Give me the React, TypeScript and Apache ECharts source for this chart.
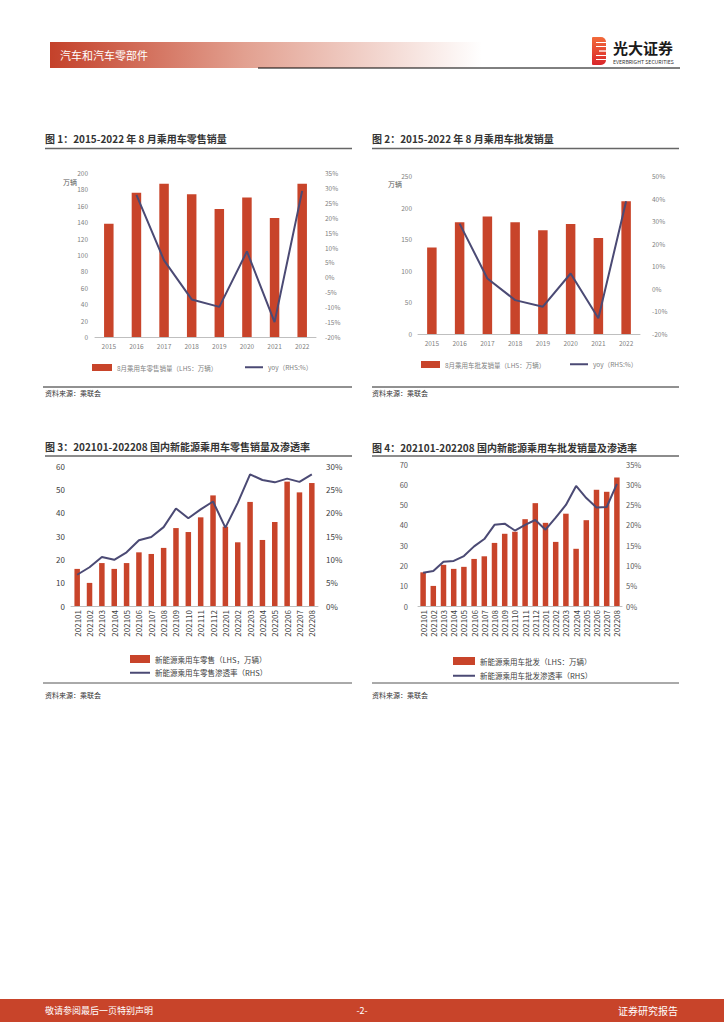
import React, { useEffect, useRef } from "react";
import * as echarts from "echarts";

const years = ["2015", "2016", "2017", "2018", "2019", "2020", "2021", "2022"];
const retailAug = [138, 176, 187, 174, 156, 170, 145, 187];
const retailYoy = [null, 27.7, 5.7, -7.4, -9.9, 8.7, -15.0, 29.0];
const wholesaleAug = [137, 177, 186, 177, 164, 174, 152, 210];
const wholesaleYoy = [null, 28.9, 4.6, -5.0, -7.9, 6.8, -13.0, 38.8];

const months = [
  "202101", "202102", "202103", "202104", "202105", "202106", "202107", "202108", "202109", "202110",
  "202111", "202112", "202201", "202202", "202203", "202204", "202205", "202206", "202207", "202208",
];
const nevRetail = [15.9, 9.9, 18.4, 15.9, 18.4, 23.0, 22.3, 24.9, 33.4, 31.7, 38.0, 47.4, 34.0, 27.3, 44.6, 28.3, 36.0, 53.3, 48.7, 52.7];
const nevRetailRate = [6.7, 8.3, 10.5, 9.9, 11.5, 14.1, 14.8, 16.9, 20.9, 18.8, 20.7, 22.4, 16.8, 22.1, 28.2, 27.0, 26.5, 27.3, 26.6, 28.2];
const nevWholesale = [16.6, 9.9, 20.3, 18.3, 19.3, 23.2, 24.5, 31.1, 35.6, 36.6, 42.8, 50.7, 41.0, 31.6, 45.5, 28.2, 42.3, 57.3, 56.3, 63.3];
const nevWholesaleRate = [8.2, 8.6, 10.9, 11.1, 12.3, 14.7, 16.5, 20.0, 20.3, 18.6, 20.0, 21.2, 18.8, 21.8, 24.9, 29.6, 26.6, 24.3, 24.4, 30.1];

const titles = [
  "图 1：2015-2022 年 8 月乘用车零售销量",
  "图 2：2015-2022 年 8 月乘用车批发销量",
  "图 3：202101-202208 国内新能源乘用车零售销量及渗透率",
  "图 4：202101-202208 国内新能源乘用车批发销量及渗透率",
];
const names = {
  b1: "8月乘用车零售销量（LHS：万辆）",
  l1: "yoy（RHS:%）",
  b2: "8月乘用车批发销量（LHS：万辆）",
  l2: "yoy（RHS:%）",
  b3: "新能源乘用车零售（LHS，万辆）",
  l3: "新能源乘用车零售渗透率（RHS）",
  b4: "新能源乘用车批发（LHS：万辆）",
  l4: "新能源乘用车批发渗透率（RHS）",
};
const source = "资料来源：乘联会";

const RED = "#C8442A";
const NAVY = "#4B4A74";
const FONT = "'Noto Sans CJK SC', 'Noto Sans', sans-serif";

function txt(x: number, y: number, text: string, font: string, fill: string, align = "left") {
  return { type: "text", x, y, silent: true, style: { text, font, fill, align, verticalAlign: "middle" } };
}
function hline(x1: number, x2: number, y: number, stroke: string, lineWidth: number) {
  return { type: "line", silent: true, shape: { x1, y1: y, x2, y2: y }, style: { stroke, lineWidth } };
}

export default function App() {
  const ref = useRef<HTMLDivElement>(null);
  useEffect(() => {
    if (!ref.current) return;
    const chart = echarts.init(ref.current, undefined, { renderer: "svg" });
    const pct = (v: number) => v + "%";
    const grids = [
      { left: 95, right: 408, top: 173, bottom: 687 },
      { left: 418, right: 84, top: 176, bottom: 690 },
      { left: 71, right: 406, top: 466, bottom: 418 },
      { left: 418, right: 102, top: 464, bottom: 418 },
    ];
    const xAx = (gi: number, data: string[], color: string, size: number, rotate: number, margin: number) => ({
      type: "category",
      gridIndex: gi,
      data,
      axisTick: { show: false },
      axisLine: { lineStyle: { color: "#BFBFBF", width: 1 } },
      axisLabel: { color, fontSize: size, rotate, margin, interval: 0, fontFamily: FONT },
    });
    const yAx = (gi: number, min: number, max: number, interval: number, color: string, size: number, margin: number, fmt?: any) => ({
      type: "value",
      gridIndex: gi,
      min,
      max,
      interval,
      splitLine: { show: false },
      axisLine: { show: false },
      axisTick: { show: false },
      axisLabel: { color, fontSize: size, margin, fontFamily: FONT, formatter: fmt },
    });
    const legendText = (color: string, size: number) => ({ color, fontSize: size, fontFamily: FONT });
    const lineLegend = (left: number, top: number, name: string, w: number, color: string, size: number) => ({
      left,
      top,
      data: [{ name, icon: "rect", itemStyle: { color: NAVY } }],
      itemWidth: w,
      itemHeight: 2,
      selectedMode: false,
      textStyle: legendText(color, size),
    });
    const barLegend = (left: number, top: number, name: string, w: number, h: number, color: string, size: number) => ({
      left,
      top,
      data: [{ name, icon: "rect" }],
      itemWidth: w,
      itemHeight: h,
      selectedMode: false,
      textStyle: legendText(color, size),
    });

    const graphic: any[] = [
      // header
      {
        type: "rect",
        silent: true,
        shape: { x: 50, y: 42, width: 432, height: 26 },
        style: {
          fill: new echarts.graphic.LinearGradient(0, 0, 1, 0, [
            { offset: 0, color: "#C4412A" },
            { offset: 0.45, color: "#E2A090" },
            { offset: 1, color: "#FFFFFF" },
          ]),
        },
      },
      txt(60, 55, "汽车和汽车零部件", `11px ${FONT}`, "#FFFFFF"),
      hline(258, 680, 68, "#000000", 1),
      // logo
      {
        type: "rect",
        silent: true,
        shape: { x: 592, y: 37, width: 14, height: 28, r: [1, 5, 5, 1] },
        style: {
          fill: new echarts.graphic.LinearGradient(0, 0, 0, 1, [
            { offset: 0, color: "#F26A3A" },
            { offset: 1, color: "#D9262B" },
          ]),
        },
      },
      hline(596, 607, 42.5, "#FFFFFF", 1),
      hline(596, 607, 46.5, "#FFFFFF", 1),
      hline(599, 607, 51, "#FFFFFF", 1.3),
      hline(596, 607, 55.5, "#FFFFFF", 1),
      hline(596, 607, 59.5, "#FFFFFF", 1),
      txt(613, 47, "光大证券", `bold 15px ${FONT}`, "#1A1A1A"),
      txt(613, 61.8, "EVERBRIGHT SECURITIES", `5.2px ${FONT}`, "#333333"),
      // titles
      txt(45, 138.5, titles[0], `bold 10px ${FONT}`, "#333333"),
      txt(372, 138.5, titles[1], `bold 10px ${FONT}`, "#333333"),
      txt(45, 446.5, titles[2], `bold 10px ${FONT}`, "#333333"),
      txt(372, 447.5, titles[3], `bold 10px ${FONT}`, "#333333"),
      hline(45, 352, 148.5, "#666666", 1.5),
      hline(372, 679, 148.5, "#666666", 1.5),
      hline(45, 352, 456, "#666666", 1.5),
      hline(372, 679, 456, "#666666", 1.5),
      // unit labels
      txt(63, 182, "万辆", `7px ${FONT}`, "#595959"),
      txt(388, 184, "万辆", `7px ${FONT}`, "#595959"),
      // sources
      hline(43, 352, 387, "#222222", 1),
      hline(372, 679, 387, "#222222", 1),
      hline(43, 352, 683, "#555555", 1),
      hline(372, 679, 683, "#555555", 1),
      txt(45, 392.5, source, `7px ${FONT}`, "#333333"),
      txt(372, 392.5, source, `7px ${FONT}`, "#333333"),
      txt(45, 695, source, `7px ${FONT}`, "#333333"),
      txt(372, 695, source, `7px ${FONT}`, "#333333"),
      // footer
      { type: "rect", silent: true, shape: { x: 0, y: 999, width: 724, height: 23 }, style: { fill: RED } },
      txt(45, 1010.5, "敬请参阅最后一页特别声明", `9px ${FONT}`, "#FFFFFF"),
      txt(362, 1010.5, "-2-", `9px ${FONT}`, "#FFFFFF", "center"),
      txt(678, 1010.5, "证券研究报告", `10px ${FONT}`, "#FFFFFF", "right"),
    ];

    chart.setOption({
      animation: false,
      textStyle: { fontFamily: FONT },
      grid: grids,
      xAxis: [
        xAx(0, years, "#7F7F7F", 6.5, 0, 6),
        xAx(1, years, "#7F7F7F", 6.5, 0, 6),
        xAx(2, months, "#404040", 8, 90, 4),
        xAx(3, months, "#404040", 8, 90, 4),
      ],
      yAxis: [
        yAx(0, 0, 200, 20, "#7F7F7F", 6.5, 7),
        yAx(0, -20, 35, 5, "#7F7F7F", 6.5, 9, pct),
        yAx(1, 0, 250, 50, "#7F7F7F", 6.5, 6),
        yAx(1, -20, 50, 10, "#7F7F7F", 6.5, 12, pct),
        yAx(2, 0, 60, 10, "#404040", 8, 6),
        yAx(2, 0, 30, 5, "#404040", 8, 8, pct),
        yAx(3, 0, 70, 10, "#595959", 7.5, 10),
        yAx(3, 0, 35, 5, "#595959", 7.5, 4, pct),
      ].map((a, i) => ({ ...a, position: i % 2 === 0 ? "left" : "right" })),
      legend: [
        barLegend(87, 359, names.b1, 20, 7, "#7F7F7F", 6.5),
        lineLegend(240, 359, names.l1, 18, "#7F7F7F", 6.5),
        barLegend(416, 356, names.b2, 19, 7, "#7F7F7F", 6.5),
        lineLegend(565, 356, names.l2, 18, "#7F7F7F", 6.5),
        barLegend(125, 650, names.b3, 20, 8, "#404040", 7.5),
        lineLegend(125, 664, names.l3, 20, "#404040", 7.5),
        barLegend(448, 652, names.b4, 22, 8, "#404040", 7.5),
        lineLegend(448, 667, names.l4, 22, "#404040", 7.5),
      ],
      series: [
        { name: names.b1, type: "bar", xAxisIndex: 0, yAxisIndex: 0, data: retailAug, barWidth: 9.5, itemStyle: { color: RED } },
        { name: names.l1, type: "line", xAxisIndex: 0, yAxisIndex: 1, data: retailYoy, symbol: "none", lineStyle: { color: NAVY, width: 2 }, itemStyle: { color: NAVY }, z: 5 },
        { name: names.b2, type: "bar", xAxisIndex: 1, yAxisIndex: 2, data: wholesaleAug, barWidth: 9.5, itemStyle: { color: RED } },
        { name: names.l2, type: "line", xAxisIndex: 1, yAxisIndex: 3, data: wholesaleYoy, symbol: "none", lineStyle: { color: NAVY, width: 2 }, itemStyle: { color: NAVY }, z: 5 },
        { name: names.b3, type: "bar", xAxisIndex: 2, yAxisIndex: 4, data: nevRetail, barWidth: 5.5, itemStyle: { color: RED } },
        { name: names.l3, type: "line", xAxisIndex: 2, yAxisIndex: 5, data: nevRetailRate, symbol: "none", lineStyle: { color: NAVY, width: 2 }, itemStyle: { color: NAVY }, z: 5 },
        { name: names.b4, type: "bar", xAxisIndex: 3, yAxisIndex: 6, data: nevWholesale, barWidth: 5.5, itemStyle: { color: RED } },
        { name: names.l4, type: "line", xAxisIndex: 3, yAxisIndex: 7, data: nevWholesaleRate, symbol: "none", lineStyle: { color: NAVY, width: 2 }, itemStyle: { color: NAVY }, z: 5 },
      ],
      graphic,
    });
    return () => chart.dispose();
  }, []);
  return <div ref={ref} style={{ position: "absolute", left: 0, top: 0, width: 724, height: 1024, background: "#FFFFFF" }} />;
}
